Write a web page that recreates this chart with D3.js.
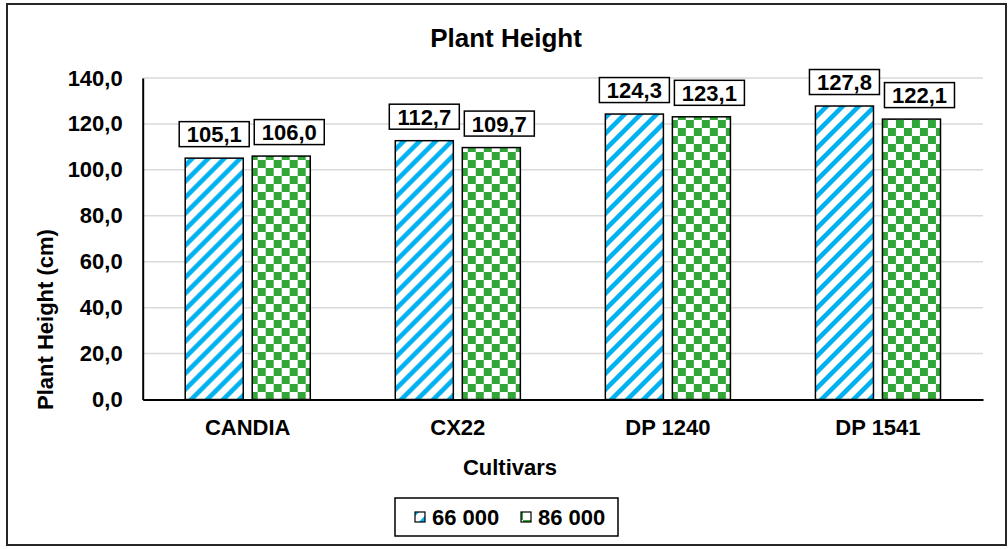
<!DOCTYPE html>
<html><head><meta charset="utf-8">
<script src="https://cdn.jsdelivr.net/npm/d3@7"></script>
<style>body{margin:0;background:#fff}svg{display:block;font-family:"Liberation Sans",Arial,sans-serif;font-weight:bold}</style>
</head><body><svg id="c" width="1008" height="549"></svg>
<script>
const categories = ["CANDIA","CX22","DP 1240","DP 1541"];
const seriesNames = ["66 000","86 000"];
const values66 = [105.1,112.7,124.3,127.8];
const values86 = [106.0,109.7,123.1,122.1];
const yTicks = [0,20,40,60,80,100,120,140];

const svg = d3.select("#c");
const W=1008,H=549;
const m = {left:142.7,right:983,top:78,bottom:399.5};
const defs = svg.append("defs");
const ps = defs.append("pattern").attr("id","stripes").attr("patternUnits","userSpaceOnUse").attr("width",16).attr("height",16);
ps.append("rect").attr("width",16).attr("height",16).attr("fill","#fff");
ps.append("path").attr("d","M-4,4 L4,-4 M0,16 L16,0 M12,20 L20,12").attr("stroke","#00b0f0").attr("stroke-width",4.6);
const pc = defs.append("pattern").attr("id","checks").attr("patternUnits","userSpaceOnUse").attr("width",16).attr("height",16).attr("x",3).attr("y",0);
pc.append("rect").attr("width",16).attr("height",16).attr("fill","#fff");
pc.append("rect").attr("width",8).attr("height",8).attr("fill","#33a63a");
pc.append("rect").attr("x",8).attr("y",8).attr("width",8).attr("height",8).attr("fill","#33a63a");
const fills = ["url(#stripes)","url(#checks)"];

svg.append("rect").attr("x",0).attr("y",0).attr("width",W).attr("height",H).attr("fill","#fff");
svg.append("rect").attr("x",7).attr("y",4).attr("width",999).attr("height",541).attr("fill","none").attr("stroke","#262626").attr("stroke-width",2);

const x = d3.scaleBand().domain(categories).range([m.left,m.right]).padding(0);
const xi = d3.scaleBand().domain(seriesNames).range([0,x.bandwidth()]).paddingInner(0.134).paddingOuter(0.634);
const y = d3.scaleLinear().domain([0,140]).range([m.bottom,m.top]);

// gridlines
svg.append("g").selectAll("line").data(yTicks.filter(d=>d>0)).join("line")
  .attr("x1",m.left).attr("x2",m.right).attr("y1",d=>y(d)).attr("y2",d=>y(d))
  .attr("stroke","#d9d9d9").attr("stroke-width",1.5);

// y axis
const ya = svg.append("g").attr("transform",`translate(${m.left},0)`)
  .call(d3.axisLeft(y).tickValues(yTicks).tickSize(0).tickPadding(20).tickFormat(d=>d3.format(".1f")(d).replace(".",",")));
ya.select(".domain").attr("stroke","#000").attr("stroke-width",2);
ya.selectAll("text").attr("font-size",22).attr("font-family","Liberation Sans, Arial").attr("font-weight","bold").attr("fill","#000");

// bars
const data = categories.map((c,i)=>({c, vals:[values66[i],values86[i]]}));
const groups = svg.append("g").selectAll("g").data(data).join("g").attr("transform",d=>`translate(${x(d.c)},0)`);
groups.selectAll("rect").data(d=>d.vals.map((v,j)=>({s:seriesNames[j],v,j}))).join("rect")
  .attr("x",d=>xi(d.s)).attr("width",xi.bandwidth())
  .attr("y",d=>y(d.v)).attr("height",d=>y(0)-y(d.v))
  .attr("fill",d=>fills[d.j]).attr("stroke","#000").attr("stroke-width",1.5);

// labels
const lab = groups.selectAll("g.lab").data(d=>d.vals.map((v,j)=>({s:seriesNames[j],v,j}))).join("g").attr("class","lab")
  .attr("transform",d=>`translate(${xi(d.s)+xi.bandwidth()/2+(d.j===1?8:0)},${y(d.v)-24})`);
lab.append("rect").attr("x",-35).attr("y",-12.5).attr("width",70).attr("height",25).attr("fill","#fff").attr("stroke","#000").attr("stroke-width",1.5);
lab.append("text").attr("text-anchor","middle").attr("y",8).attr("font-size",22).text(d=>d3.format(".1f")(d.v).replace(".",","));

// x axis
const xa = svg.append("g").attr("transform",`translate(0,${m.bottom})`)
  .call(d3.axisBottom(x).tickSize(0).tickPadding(20));
xa.select(".domain").attr("stroke","#000").attr("stroke-width",2);
xa.selectAll("text").attr("font-size",22).attr("font-family","Liberation Sans, Arial").attr("font-weight","bold").attr("fill","#000");

// titles
svg.append("text").attr("x",506).attr("y",47).attr("text-anchor","middle").attr("font-size",26).text("Plant Height");
svg.append("text").attr("x",510).attr("y",475).attr("text-anchor","middle").attr("font-size",22).text("Cultivars");
svg.append("text").attr("transform",`translate(53,410) rotate(-90)`).attr("text-anchor","start").attr("font-size",22).text("Plant Height (cm)");

// legend
const lg = svg.append("g");
lg.append("rect").attr("x",395).attr("y",498).attr("width",223).attr("height",38).attr("fill","#fff").attr("stroke","#000").attr("stroke-width",1.5);
const lx = [415,521];
seriesNames.forEach((s,j)=>{
  lg.append("rect").attr("x",lx[j]).attr("y",512).attr("width",10).attr("height",10).attr("fill",fills[j]).attr("stroke","#000").attr("stroke-width",1.2);
  lg.append("text").attr("x",lx[j]+17).attr("y",525).attr("font-size",22).text(s);
});
</script></body></html>
